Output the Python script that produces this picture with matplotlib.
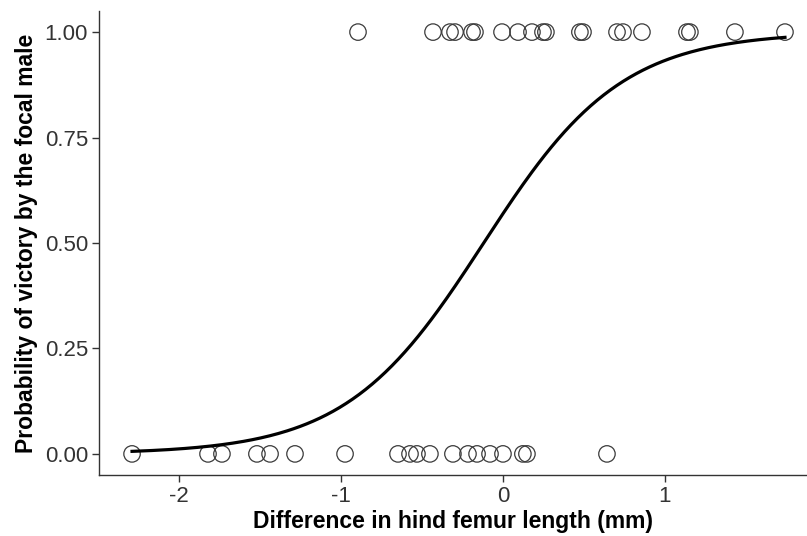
import numpy as np
import matplotlib
matplotlib.use("Agg")
import matplotlib.pyplot as plt

plt.rcParams['font.family'] = ['Liberation Sans', 'DejaVu Sans']

# Observed outcomes: difference in hind femur length (mm)
x_win = [-0.895, -0.432, -0.327, -0.296, -0.191, -0.173, -0.006, 0.093, 0.179,
         0.247, 0.265, 0.475, 0.494, 0.704, 0.741, 0.858, 1.136, 1.154, 1.432, 1.741]
x_loss = [-2.290, -1.821, -1.735, -1.519, -1.438, -1.284, -0.975, -0.648, -0.574,
          -0.531, -0.451, -0.309, -0.216, -0.160, -0.080, 0.000, 0.123, 0.148, 0.642]

# Fitted logistic regression coefficients (estimated from the curve)
intercept = 0.28
slope = 2.35

xticks = [-2, -1, 0, 1]
yticks = [0.00, 0.25, 0.50, 0.75, 1.00]
ytick_labels = ["0.00", "0.25", "0.50", "0.75", "1.00"]

fig = plt.figure(figsize=(8.07, 5.36), dpi=100)
ax = fig.add_axes([99/807, 61/536, (807-99)/807, (475-11)/536])

ax.scatter(x_win, [1.0]*len(x_win), s=140, facecolors='none',
           edgecolors='#3a3a3a', linewidths=0.9, zorder=3)
ax.scatter(x_loss, [0.0]*len(x_loss), s=140, facecolors='none',
           edgecolors='#3a3a3a', linewidths=0.9, zorder=3)

xs = np.linspace(min(x_win + x_loss), max(x_win + x_loss), 300)
ps = 1.0 / (1.0 + np.exp(-(intercept + slope * xs)))
ax.plot(xs, ps, color='black', lw=2.3, zorder=4)

ax.set_xlim(-2.494, 1.877)
ax.set_ylim(-0.05, 1.05)
ax.set_xticks(xticks)
ax.set_xticklabels([str(t) for t in xticks])
ax.set_yticks(yticks)
ax.set_yticklabels(ytick_labels)

for s in ['top', 'right']:
    ax.spines[s].set_visible(False)
for s in ['left', 'bottom']:
    ax.spines[s].set_color('#333333')
    ax.spines[s].set_linewidth(1.0)
ax.tick_params(axis='both', colors='#333333', labelcolor='#333333',
               labelsize=16, length=5, width=1.0, pad=3)

ax.set_xlabel('Difference in hind femur length (mm)', fontsize=16.5,
              fontweight='bold', labelpad=2)
ax.set_ylabel('Probability of victory by the focal male', fontsize=16.5,
              fontweight='bold', labelpad=5)

fig.savefig('out.png', dpi=100)
